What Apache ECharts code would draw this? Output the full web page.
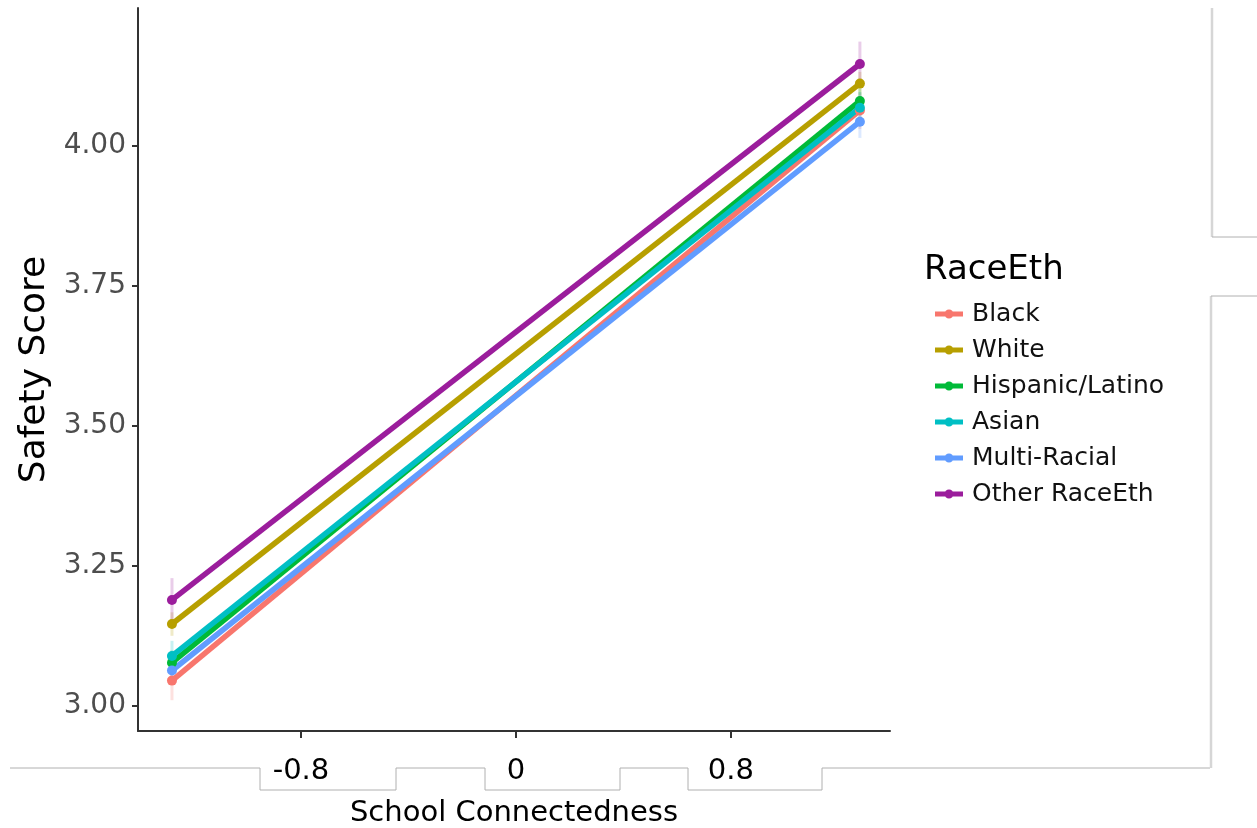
<!DOCTYPE html>
<html>
<head>
<meta charset="utf-8">
<title>Safety Score by School Connectedness</title>
<script src="https://cdn.jsdelivr.net/npm/echarts@6/dist/echarts.min.js"></script>
<style>
html, body { margin: 0; padding: 0; background: #fff; }
#main { width: 1257px; height: 828px; }
</style>
</head>
<body>
<div id="main"></div>
<script>
// groups and colours (ggplot order, last one drawn on top)
var groups = ['Black', 'White', 'Hispanic/Latino', 'Asian', 'Multi-Racial', 'Other RaceEth'];
var colors = ['#f8766d', '#b79f00', '#00ba38', '#00bfc4', '#619cff', '#9b1d9c'];

// x positions of the predicted points
var xPoints = [-0.8, 0.8];

// predicted safety score at low / high connectedness
var blackScore    = [3.045, 4.063];
var whiteScore    = [3.146, 4.111];
var hispanicScore = [3.077, 4.080];
var asianScore    = [3.089, 4.068];
var multiScore    = [3.063, 4.043];
var otherScore    = [3.189, 4.146];

// confidence intervals [low, high] at each x
var blackCI    = [[3.010, 3.080], [4.030, 4.095]];
var whiteCI    = [[3.125, 3.167], [4.090, 4.132]];
var hispanicCI = [[3.055, 3.099], [4.058, 4.102]];
var asianCI    = [[3.062, 3.116], [4.040, 4.096]];
var multiCI    = [[3.040, 3.086], [4.014, 4.072]];
var otherCI    = [[3.150, 3.228], [4.106, 4.186]];

// axis ticks
var yTicks = [3.00, 3.25, 3.50, 3.75, 4.00];
var xTicks = [-0.5, 0, 0.5];
var xTickLabels = ['-0.8', '0', '0.8'];

var scores = [blackScore, whiteScore, hispanicScore, asianScore, multiScore, otherScore];
var cis = [blackCI, whiteCI, hispanicCI, asianCI, multiCI, otherCI];

var FONT = 'DejaVu Sans';
// legend key: thick line with a dot in the middle
var KEY_ICON = 'path://M0,2.5 L28,2.5 L28,7.5 L0,7.5 Z M9.5,5 A4.5,4.5 0 1,1 18.5,5 A4.5,4.5 0 1,1 9.5,5 Z';

function buildSeries(){
	var list = [];
	// error bars first so the lines sit over them
	groups.forEach(function(name, i){
		var data = xPoints.map(function(x, k){
			return [x, cis[i][k][0], cis[i][k][1]];
		});
		list.push({
			name: 'ci-' + name,
			type: 'custom',
			silent: true,
			data: data,
			z: 1,
			renderItem: function(params, api){
				var top = api.coord([api.value(0), api.value(2)]);
				var bot = api.coord([api.value(0), api.value(1)]);
				return {
					type: 'line',
					shape: {x1: top[0], y1: top[1], x2: bot[0], y2: bot[1]},
					style: {stroke: colors[i], lineWidth: 3, opacity: 0.22}
				};
			}
		});
	});
	groups.forEach(function(name, i){
		list.push({
			name: name,
			type: 'line',
			data: xPoints.map(function(x, k){ return [x, scores[i][k]]; }),
			symbol: 'circle',
			symbolSize: 10,
			showSymbol: true,
			z: 2,
			color: colors[i],
			lineStyle: {width: 5.5, color: colors[i]},
			itemStyle: {color: colors[i]}
		});
	});
	return list;
}

// outline of the pasted label boxes round the plot
var boxPath = [[10,768],[260,768],[260,790],[396,790],[396,768],[485,768],[485,790],
	[620,790],[620,768],[688,768],[688,790],[822,790],[822,768],[1210,768]];

var chart = echarts.init(document.getElementById('main'));
chart.setOption({
	animation: false,
	backgroundColor: '#fff',
	title: {
		text: 'RaceEth',
		left: 924,
		top: 253,
		padding: 0,
		textStyle: {fontFamily: FONT, fontSize: 34, fontWeight: 'normal', color: '#000'}
	},
	legend: {
		data: groups,
		icon: KEY_ICON,
		orient: 'vertical',
		left: 930,
		top: 295,
		itemWidth: 28,
		itemHeight: 10,
		itemGap: 8,
		textStyle: {fontFamily: FONT, fontSize: 25, lineHeight: 28, color: '#111', padding: [0, 0, 0, 4]}
	},
	grid: {left: 138, right: 367, top: 8, bottom: 97, outerBoundsMode: 'none'},
	xAxis: {
		type: 'value',
		min: -0.879,
		max: 0.870,
		name: 'School Connectedness',
		nameLocation: 'middle',
		nameGap: 68,
		nameTextStyle: {fontFamily: FONT, fontSize: 29, color: '#000'},
		axisLine: {show: true, onZero: false, lineStyle: {color: '#333', width: 2}},
		axisTick: {show: true, length: 7, customValues: xTicks, lineStyle: {color: '#333', width: 2}},
		axisLabel: {
			customValues: xTicks,
			margin: 26,
			fontFamily: FONT,
			fontSize: 29,
			color: '#000',
			formatter: function(v){
				var idx = xTicks.indexOf(v);
				return idx >= 0 ? xTickLabels[idx] : '';
			}
		},
		splitLine: {show: false},
		z: 5
	},
	yAxis: {
		type: 'value',
		min: 2.955,
		max: 4.246,
		name: 'Safety Score',
		nameLocation: 'middle',
		nameGap: 78,
		nameTextStyle: {fontFamily: FONT, fontSize: 36, color: '#000'},
		axisLine: {show: true, onZero: false, lineStyle: {color: '#333', width: 2}},
		axisTick: {show: true, length: 6, customValues: yTicks, lineStyle: {color: '#333', width: 2}},
		axisLabel: {
			customValues: yTicks,
			margin: 12,
			fontFamily: FONT,
			fontSize: 28,
			color: '#4d4d4d',
			formatter: function(v){ return v.toFixed(2); }
		},
		splitLine: {show: false}
	},
	graphic: [
		{type: 'polyline', z: 1, shape: {points: boxPath}, style: {stroke: '#b0b0b0', lineWidth: 1, fill: null}},
		{type: 'line', z: 1, shape: {x1: 1211, y1: 768, x2: 1211, y2: 296}, style: {stroke: '#d6d6d6', lineWidth: 2.5}},
		{type: 'line', z: 1, shape: {x1: 1211, y1: 296, x2: 1257, y2: 296}, style: {stroke: '#b0b0b0', lineWidth: 1}},
		{type: 'line', z: 1, shape: {x1: 1212, y1: 8, x2: 1212, y2: 237}, style: {stroke: '#d6d6d6', lineWidth: 2.5}},
		{type: 'line', z: 1, shape: {x1: 1212, y1: 237, x2: 1257, y2: 237}, style: {stroke: '#b0b0b0', lineWidth: 1}}
	],
	series: buildSeries()
});
</script>
</body>
</html>
